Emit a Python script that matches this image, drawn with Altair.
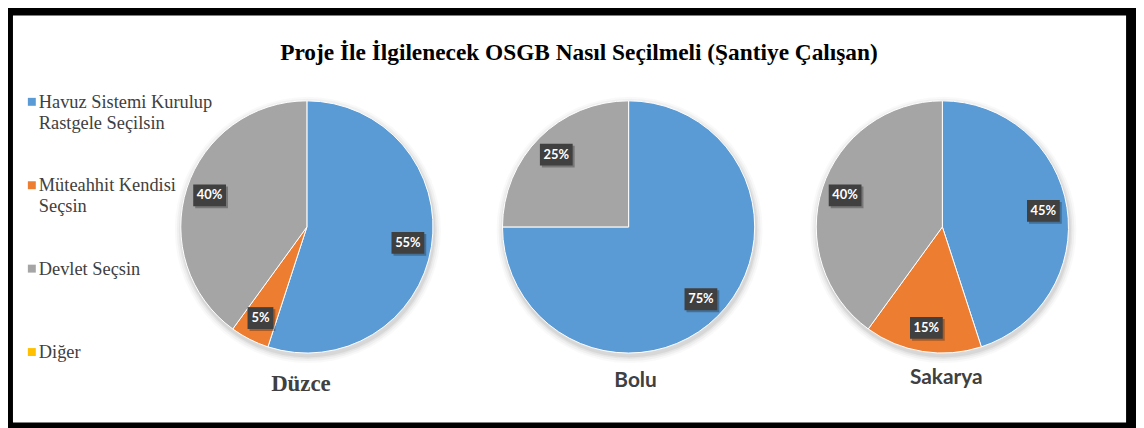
import math
import altair as alt
import pandas as pd

# ---- data ----
regions = ["Düzce", "Bolu", "Sakarya"]
categories = [
    "Havuz Sistemi Kurulup Rastgele Seçilsin",
    "Müteahhit Kendisi Seçsin",
    "Devlet Seçsin",
    "Diğer",
]
legend_labels = [
    "Havuz Sistemi Kurulup\nRastgele Seçilsin",
    "Müteahhit Kendisi\nSeçsin",
    "Devlet Seçsin",
    "Diğer",
]
duzce_values = [55, 5, 40, 0]
bolu_values = [75, 0, 25, 0]
sakarya_values = [45, 15, 40, 0]
colors = ["#5B9BD5", "#ED7D31", "#A5A5A5", "#FFC000"]
title_text = "Proje İle İlgilenecek OSGB Nasıl Seçilmeli (Şantiye Çalışan)"

# ---- tables built from the arrays ----
rows = []
for reg, vals in zip(regions, [duzce_values, bolu_values, sakarya_values]):
    for i, (cat, v) in enumerate(zip(categories, vals)):
        rows.append({"region": reg, "category": cat, "value": v, "order": i})
df = pd.DataFrame(rows)
legend_df = pd.DataFrame({"category": categories, "label": legend_labels,
                          "idx": list(range(len(categories)))})
region_df = pd.DataFrame({"region": regions})
title_df = pd.DataFrame({"t": [title_text]})

# ---- layout (pixels, chart coordinates) ----
W, H = 1136, 420
centers = {"Düzce": 301, "Bolu": 625, "Sakarya": 941}
CY = 219
R = 127
LR = 103
name_pos = {"Düzce": (295, 384), "Bolu": (632, 380), "Sakarya": (945, 377)}

color_scale = alt.Scale(domain=categories, range=colors)
theta_scale = alt.Scale(domain=[0, 100], range=[0, 2 * math.pi])

layers = []

# frame: black background + white inner panel
layers.append(
    alt.Chart(title_df).mark_rect(color="white").encode(
        x=alt.value(5), x2=alt.value(1126), y=alt.value(6), y2=alt.value(416)
    )
)

# title
layers.append(
    alt.Chart(title_df).mark_text(
        font="Liberation Serif", fontWeight="bold", fontSize=23.5, color="#000000",
        align="center", baseline="alphabetic",
    ).encode(text="t:N", x=alt.value(575), y=alt.value(51))
)

for reg in regions:
    cx = centers[reg]
    # soft shadow around the pie
    for rr, op in [(134, 0.025), (132, 0.035), (130, 0.045), (128.5, 0.06)]:
        layers.append(
            alt.Chart(region_df).transform_filter(alt.datum.region == reg).mark_arc(
                radius=rr, theta=0, theta2=2 * math.pi, color="black", opacity=op
            ).encode(x=alt.value(cx + 1), y=alt.value(CY + 3))
        )

    base = (
        alt.Chart(df)
        .transform_filter(alt.datum.region == reg)
        .transform_filter(alt.datum.value > 0)
        .transform_window(cum="sum(value)", sort=[{"field": "order"}], frame=[None, 0])
        .transform_calculate(start="datum.cum - datum.value")
    )
    layers.append(
        base.mark_arc(radius=R, stroke="white", strokeWidth=1).encode(
            theta=alt.Theta("start:Q", scale=theta_scale),
            theta2="cum:Q",
            color=alt.Color("category:N", scale=color_scale, legend=None),
            x=alt.value(cx),
            y=alt.value(CY),
        )
    )

    lab = base.transform_calculate(
        mid="(datum.start + datum.value / 2) / 100 * 2 * PI",
        label="datum.value + '%'",
    ).transform_calculate(
        lx=f"{cx} + {LR} * sin(datum.mid)",
        ly=f"{CY} - {LR} * cos(datum.mid)",
        w="length(datum.label) <= 2 ? 13 : 16.5",
    ).transform_calculate(
        x0="datum.lx - datum.w", x1="datum.lx + datum.w",
        y0="datum.ly - 11", y1="datum.ly + 11",
        sx0="datum.lx - datum.w + 2", sx1="datum.lx + datum.w + 2",
        sy0="datum.ly - 9", sy1="datum.ly + 13",
    )
    # label box shadow
    layers.append(
        lab.mark_rect(color="black", opacity=0.28).encode(
            x=alt.X("sx0:Q", scale=None, axis=None), x2="sx1:Q",
            y=alt.Y("sy0:Q", scale=None, axis=None), y2="sy1:Q",
        )
    )
    layers.append(
        lab.mark_rect(color="#404040").encode(
            x=alt.X("x0:Q", scale=None, axis=None), x2="x1:Q",
            y=alt.Y("y0:Q", scale=None, axis=None), y2="y1:Q",
        )
    )
    layers.append(
        lab.mark_text(
            font="Lato", fontWeight="bold", fontSize=13, color="white",
            align="center", baseline="middle",
        ).encode(
            x=alt.X("lx:Q", scale=None, axis=None),
            y=alt.Y("ly:Q", scale=None, axis=None),
            text="label:N",
        )
    )

    # region name under each pie
    nx, ny = name_pos[reg]
    if reg == "Düzce":
        font, size = "Liberation Serif", 23
    else:
        font, size = "Lato", 21
    layers.append(
        alt.Chart(region_df).transform_filter(alt.datum.region == reg).mark_text(
            font=font, fontWeight="bold", fontSize=size, color="#404040",
            align="center", baseline="alphabetic",
        ).encode(text="region:N", x=alt.value(nx), y=alt.value(ny))
    )

# legend (manual, left side)
legend_y = alt.Y("idx:Q", scale=alt.Scale(domain=[0, 3], range=[93, 345]), axis=None)
layers.append(
    alt.Chart(legend_df).mark_square(size=64, opacity=1).encode(
        x=alt.value(24), y=legend_y,
        color=alt.Color("category:N", scale=color_scale, legend=None),
    )
)
layers.append(
    alt.Chart(legend_df).mark_text(
        font="Liberation Serif", fontSize=18.5, color="#404040", align="left",
        baseline="alphabetic", lineBreak="\n", lineHeight=21, dy=6,
    ).encode(x=alt.value(31), y=legend_y, text="label:N")
)

chart = (
    alt.layer(*layers)
    .resolve_scale(x="independent", y="independent")
    .properties(width=W, height=H, background="black", padding=0,
                autosize=alt.AutoSizeParams(type="none"))
    .configure_view(stroke=None)
)

chart.save("out.html", embed_options={"renderer": "svg", "actions": False})
